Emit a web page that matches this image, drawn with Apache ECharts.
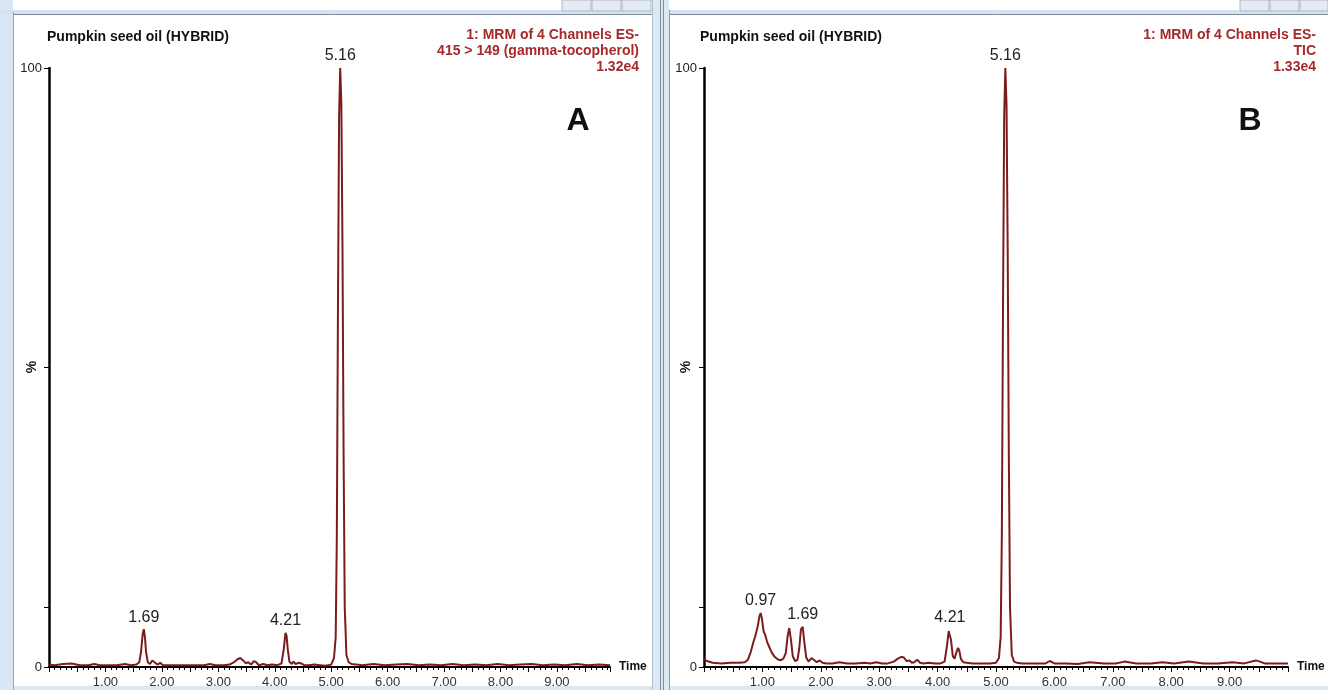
<!DOCTYPE html>
<html><head><meta charset="utf-8">
<script src="https://cdn.jsdelivr.net/npm/echarts@6/dist/echarts.min.js"></script>
<style>html,body{margin:0;padding:0;background:#fff}#c{width:1328px;height:690px}</style>
</head><body><div id="c"></div>
<script>
// ---- Panel A: 415 > 149 (gamma-tocopherol), % of 1.32e4 ----
const timesA = [0.00,0.10,0.25,0.40,0.55,0.70,0.80,0.90,1.05,1.20,1.35,1.45,1.55,1.60,1.63,1.66,1.68,1.70,1.72,1.75,1.79,1.83,1.87,1.92,1.97,2.02,2.15,2.35,2.55,2.75,2.85,2.95,3.10,3.20,3.28,3.34,3.39,3.44,3.49,3.53,3.58,3.63,3.67,3.72,3.80,3.87,3.95,4.05,4.12,4.16,4.19,4.21,4.23,4.26,4.30,4.33,4.37,4.42,4.47,4.52,4.60,4.70,4.80,4.90,5.00,5.05,5.08,5.10,5.12,5.14,5.16,5.18,5.20,5.22,5.24,5.27,5.31,5.36,5.45,5.55,5.75,5.95,6.15,6.35,6.55,6.75,6.95,7.15,7.35,7.55,7.75,7.95,8.15,8.35,8.55,8.75,8.95,9.15,9.35,9.55,9.75,9.94];
const valuesA = [0.4,0.3,0.5,0.6,0.3,0.3,0.5,0.3,0.3,0.3,0.5,0.3,0.4,0.8,2.5,5.5,6.3,5.0,2.5,0.8,0.5,1.1,0.8,0.4,0.7,0.3,0.3,0.3,0.3,0.3,0.5,0.3,0.3,0.4,0.8,1.3,1.5,1.1,0.6,0.8,0.4,1.0,0.8,0.3,0.5,0.3,0.4,0.3,0.6,3.0,5.7,5.2,3.0,0.9,0.5,0.9,0.5,0.7,0.6,0.3,0.3,0.4,0.3,0.2,0.4,1.5,5,22,60,92,100,94,70,35,10,2,0.8,0.5,0.4,0.3,0.5,0.3,0.4,0.5,0.3,0.4,0.3,0.5,0.3,0.4,0.3,0.5,0.3,0.4,0.5,0.3,0.4,0.3,0.5,0.3,0.4,0.3];
const peakLabelsA = ['1.69','4.21','5.16'];
const peakTimesA = [1.68,4.19,5.16];
const peakHeightsA = [6.3,5.7,100];

// ---- Panel B: TIC, % of 1.33e4 ----
const timesB = [0.00,0.05,0.15,0.30,0.45,0.60,0.70,0.75,0.80,0.85,0.88,0.92,0.95,0.97,0.99,1.02,1.05,1.08,1.12,1.16,1.21,1.26,1.31,1.36,1.40,1.43,1.46,1.49,1.52,1.56,1.60,1.63,1.66,1.69,1.72,1.75,1.79,1.84,1.88,1.93,1.98,2.03,2.10,2.20,2.32,2.45,2.60,2.75,2.85,2.95,3.05,3.15,3.25,3.32,3.38,3.42,3.47,3.52,3.56,3.60,3.65,3.70,3.76,3.85,3.95,4.05,4.12,4.16,4.19,4.21,4.23,4.26,4.29,4.32,4.35,4.37,4.40,4.44,4.50,4.60,4.75,4.90,5.00,5.05,5.08,5.10,5.12,5.14,5.16,5.18,5.20,5.22,5.24,5.27,5.31,5.36,5.45,5.65,5.85,5.92,6.00,6.20,6.40,6.60,6.85,7.05,7.20,7.40,7.65,7.85,8.05,8.30,8.55,8.80,9.05,9.25,9.45,9.52,9.60,9.80,10.00];
const valuesB = [1.3,1.0,0.7,0.6,0.7,0.7,0.8,1.2,2.5,4.3,5.2,6.8,8.5,9.0,8.2,6.0,5.3,4.2,3.3,2.4,1.7,1.3,1.1,1.4,2.3,5.0,6.5,4.5,1.8,1.0,1.2,3.0,6.3,6.7,4.0,1.6,0.9,1.5,1.2,0.8,1.1,0.7,0.6,0.6,0.8,0.6,0.6,0.7,0.6,0.8,0.6,0.6,0.9,1.4,1.7,1.6,1.0,1.1,0.7,0.8,1.2,0.7,0.6,0.7,0.6,0.6,0.9,3.5,6.0,6.2,4.5,1.8,1.4,2.4,3.2,2.8,1.3,0.8,0.7,0.6,0.6,0.6,0.7,1.5,5,22,60,92,100,94,70,35,10,2,0.9,0.7,0.6,0.6,0.6,1.0,0.6,0.6,0.5,0.8,0.6,0.6,0.9,0.6,0.6,0.8,0.6,0.9,0.6,0.6,0.8,0.6,1.1,0.9,0.6,0.6,0.6];
const peakLabelsB = ['0.97','1.69','4.21','5.16'];
const peakTimesB = [0.97,1.69,4.21,5.16];
const peakHeightsB = [9.0,6.7,6.2,100];

// ---- axis tick labels ----
const timeTickLabels = [1,2,3,4,5,6,7,8,9];
const yLabelValues = [0,100];
const yTickValues = [0,10,50,100];

const FF = "'Liberation Sans', Arial, sans-serif";
const RED = '#a52a2a';
const LINE = '#7d1c1c';

function xAx(gridIndex, max) {
  return {
    type: 'value', gridIndex: gridIndex, min: 0, max: max, interval: 0.5,
    axisLine: { show: true, onZero: false, lineStyle: { color: '#000', width: 2 } },
    axisTick: { show: true, length: 5, lineStyle: { color: '#000', width: 1 } },
    minorTick: { show: true, splitNumber: 5, length: 3, lineStyle: { color: '#000', width: 1 } },
    axisLabel: { customValues: timeTickLabels, formatter: v => v.toFixed(2), color: '#333', fontSize: 13, margin: 9, fontFamily: FF },
    splitLine: { show: false }, minorSplitLine: { show: false },
    name: 'Time', nameLocation: 'end', nameGap: 9,
    nameTextStyle: { fontWeight: 'bold', fontSize: 12, color: '#111', fontFamily: FF }
  };
}
function yAx(gridIndex) {
  return {
    type: 'value', gridIndex: gridIndex, min: 0, max: 100, interval: 10,
    axisLine: { show: true, lineStyle: { color: '#000', width: 2.5 } },
    axisTick: { show: true, customValues: yTickValues, length: 5, lineStyle: { color: '#000', width: 1 } },
    axisLabel: { customValues: yLabelValues, color: '#222', fontSize: 13, margin: 7, fontFamily: FF },
    splitLine: { show: false }
  };
}
function pairs(ts, vs) { return ts.map((t, i) => [t, vs[i]]); }
function peaks(names, ts, hs) {
  return names.map((n, i) => ({ name: n, coord: [ts[i], hs[i]] }));
}
function series(idx, ts, vs, names, pts, phs) {
  return {
    type: 'line', xAxisIndex: idx, yAxisIndex: idx, data: pairs(ts, vs),
    showSymbol: false, symbol: 'none', smooth: false,
    lineStyle: { color: LINE, width: 2 }, z: 3,
    markPoint: {
      symbol: 'circle', symbolSize: 0, animation: false,
      label: { show: true, position: 'top', distance: 4, formatter: p => p.name, color: '#222', fontSize: 16, fontFamily: FF },
      data: peaks(names, pts, phs)
    }
  };
}
function txt(x, y, text, font, fill, align, rot) {
  return { type: 'text', x: x, y: y, rotation: rot || 0, z: 10,
    style: { text: text, font: font, fill: fill, align: align || 'left', verticalAlign: 'middle' } };
}
function rect(x, y, w, h, fill, stroke) {
  return { type: 'rect', shape: { x: x, y: y, width: w, height: h }, z: 0,
    style: { fill: fill, stroke: stroke || null, lineWidth: 1 } };
}
function vline(x, y1, y2, color) {
  return { type: 'line', shape: { x1: x, y1: y1, x2: x, y2: y2 }, z: 1, style: { stroke: color, lineWidth: 1 } };
}
function hline(y, x1, x2, color) {
  return { type: 'line', shape: { x1: x1, y1: y, x2: x2, y2: y }, z: 1, style: { stroke: color, lineWidth: 1 } };
}

const chrome = [
  rect(0, 0, 13, 690, '#d9e7f5'),
  vline(13.5, 12, 690, '#9aa6b2'),
  rect(0, 10, 1328, 4, '#d5e3f1'),
  hline(14.5, 13, 652, '#7d8a97'),
  hline(14.5, 669, 1328, '#7d8a97'),
  rect(652, 0, 17, 690, '#dce8f4'),
  vline(652.5, 0, 690, '#b4c0cc'),
  vline(660.5, 0, 690, '#7f8b96'),
  vline(663.5, 0, 690, '#7f8b96'),
  vline(669.5, 10, 690, '#8f9ba6'),
  rect(0, 686, 1328, 4, '#dbe7f3'),
  rect(562, 0, 29, 11, '#e4ebf2', '#a9b6c3'),
  rect(592, 0, 29, 11, '#e4ebf2', '#a9b6c3'),
  rect(622, 0, 29, 11, '#e4ebf2', '#a9b6c3'),
  rect(1240, 0, 29, 11, '#e4ebf2', '#a9b6c3'),
  rect(1270, 0, 29, 11, '#e4ebf2', '#a9b6c3'),
  rect(1300, 0, 28, 11, '#e4ebf2', '#a9b6c3')
];

const texts = [
  txt(47, 37, 'Pumpkin seed oil (HYBRID)', 'bold 14px ' + FF, '#111', 'left'),
  txt(639, 35, '1: MRM of 4 Channels ES-', 'bold 14px ' + FF, RED, 'right'),
  txt(639, 51, '415 > 149 (gamma-tocopherol)', 'bold 14px ' + FF, RED, 'right'),
  txt(639, 67, '1.32e4', 'bold 14px ' + FF, RED, 'right'),
  txt(578, 121, 'A', 'bold 32px ' + FF, '#111', 'center'),
  txt(32, 367, '%', 'bold 14px ' + FF, '#111', 'center', Math.PI / 2),

  txt(700, 37, 'Pumpkin seed oil (HYBRID)', 'bold 14px ' + FF, '#111', 'left'),
  txt(1316, 35, '1: MRM of 4 Channels ES-', 'bold 14px ' + FF, RED, 'right'),
  txt(1316, 51, 'TIC', 'bold 14px ' + FF, RED, 'right'),
  txt(1316, 67, '1.33e4', 'bold 14px ' + FF, RED, 'right'),
  txt(1250, 121, 'B', 'bold 32px ' + FF, '#111', 'center'),
  txt(686, 367, '%', 'bold 14px ' + FF, '#111', 'center', Math.PI / 2)
];

const chart = echarts.init(document.getElementById('c'), null, { renderer: 'canvas' });
chart.setOption({
  animation: false,
  backgroundColor: '#ffffff',
  textStyle: { fontFamily: FF },
  grid: [
    { left: 49, top: 68, width: 561, height: 599, containLabel: false },
    { left: 704, top: 68, width: 584, height: 599, containLabel: false }
  ],
  xAxis: [xAx(0, 9.94), xAx(1, 10)],
  yAxis: [yAx(0), yAx(1)],
  series: [
    series(0, timesA, valuesA, peakLabelsA, peakTimesA, peakHeightsA),
    series(1, timesB, valuesB, peakLabelsB, peakTimesB, peakHeightsB)
  ],
  graphic: chrome.concat(texts)
});
</script>
</body></html>
